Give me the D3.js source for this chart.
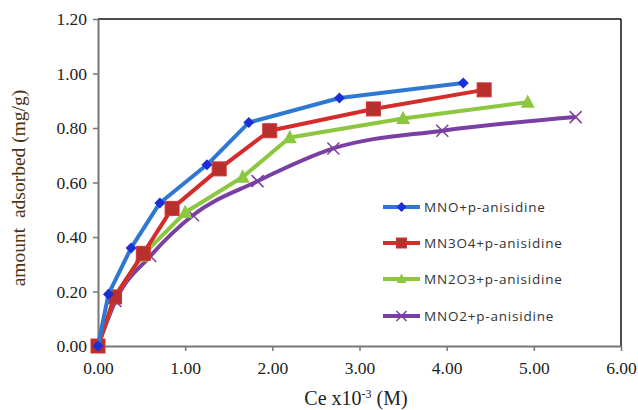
<!DOCTYPE html>
<html><head><meta charset="utf-8">
<script src="https://cdn.jsdelivr.net/npm/d3@7"></script>
<style>body{margin:0;background:#fff}svg{display:block}</style>
</head><body>
<svg id="c" width="638" height="410"></svg>
<script>
const seriesNames = ["MNO+p-anisidine","MN3O4+p-anisidine","MN2O3+p-anisidine","MNO2+p-anisidine"];
const legendLabels = ["MNO+p-anisidine","MN3O4+p-anisidine","MN2O3+p-anisidine","MNO2+p-anisidine"];
const mnoX = [0, 0.12, 0.38, 0.71, 1.25, 1.73, 2.77, 4.19];
const mnoY = [0, 0.19, 0.36, 0.525, 0.665, 0.82, 0.91, 0.965];
const mn3o4X = [0, 0.19, 0.52, 0.85, 1.39, 1.97, 3.16, 4.43];
const mn3o4Y = [0, 0.18, 0.34, 0.505, 0.65, 0.79, 0.87, 0.94];
const mn2o3X = [0, 0.19, 0.5, 1.0, 1.66, 2.2, 3.5, 4.93];
const mn2o3Y = [0, 0.18, 0.33, 0.49, 0.62, 0.765, 0.835, 0.895];
const mno2X = [0, 0.2, 0.6, 1.09, 1.83, 2.7, 3.95, 5.48];
const mno2Y = [0, 0.165, 0.33, 0.48, 0.605, 0.725, 0.79, 0.84];
const xTicks = [0,1,2,3,4,5,6];
const yTicks = [0,0.2,0.4,0.6,0.8,1.0,1.2];

const svg = d3.select("#c");
const L=98, R=621, T=19, B=346;
const x = d3.scaleLinear().domain([0,6]).range([L,R]);
const y = d3.scaleLinear().domain([0,1.2]).range([B,T]);
const serif = "'Liberation Serif','DejaVu Serif',serif";

svg.append("line").attr("x1",L).attr("x2",R).attr("y1",T).attr("y2",T).attr("stroke","#111").attr("stroke-width",1.5);
svg.append("line").attr("x1",R).attr("x2",R).attr("y1",T).attr("y2",B).attr("stroke","#111").attr("stroke-width",1.5);

const xa = svg.append("g").attr("transform",`translate(0,${B})`)
  .call(d3.axisBottom(x).tickValues(xTicks).tickFormat(d3.format(".2f")).tickSize(5).tickSizeOuter(0));
const ya = svg.append("g").attr("transform",`translate(${L},0)`)
  .call(d3.axisLeft(y).tickValues(yTicks).tickFormat(d3.format(".2f")).tickSize(5).tickSizeOuter(0));
[xa,ya].forEach(g=>{
  g.select(".domain").attr("stroke","#777").attr("stroke-width",2);
  g.selectAll(".tick line").attr("stroke","#777").attr("stroke-width",1.5);
  g.selectAll("text").attr("font-family",serif).attr("font-size",17.5).attr("fill","#222");
});
xa.selectAll("text").attr("y",16).attr("dy","0.71em");
ya.selectAll("text").attr("x",-11).attr("dy","0.32em");

const colors = ["#2f78d2","#d42b2b","#8dc63f","#7a3fa3"];
const mk = ["#1a2fd8","#c0302e","#8dc63f","#7a3fa3"];
const data = [[mnoX,mnoY],[mn3o4X,mn3o4Y],[mn2o3X,mn2o3Y],[mno2X,mno2Y]].map(([xs,ys])=>xs.map((v,i)=>[v,ys[i]]));
const curves = [d3.curveLinear,d3.curveLinear,d3.curveLinear,d3.curveMonotoneX];

function marker(g,i,cx,cy,s){
  if(i===0){
    g.append("path").attr("d",`M${cx},${cy-s}L${cx+s},${cy}L${cx},${cy+s}L${cx-s},${cy}Z`).attr("fill",mk[0]);
  } else if(i===1){
    g.append("rect").attr("x",cx-s).attr("y",cy-s).attr("width",2*s).attr("height",2*s).attr("fill","#b8302e").attr("stroke","#d43333").attr("stroke-width",1);
  } else if(i===2){
    g.append("path").attr("d",`M${cx},${cy-s*1.1}L${cx+s},${cy+s*0.8}L${cx-s},${cy+s*0.8}Z`).attr("fill",mk[2]);
  } else {
    g.append("path").attr("d",`M${cx-s},${cy-s}L${cx+s},${cy+s}M${cx-s},${cy+s}L${cx+s},${cy-s}`).attr("stroke",mk[3]).attr("stroke-width",1.5);
  }
}
const sizes=[5.5,7,7,6];
[3,2,1,0].forEach(i=>{
  const line = d3.line().x(d=>x(d[0])).y(d=>y(d[1])).curve(curves[i]);
  svg.append("path").datum(data[i]).attr("d",line).attr("fill","none").attr("stroke",colors[i]).attr("stroke-width",4).attr("stroke-linejoin","round");
  const g=svg.append("g");
  data[i].forEach(d=>marker(g,i,x(d[0]),y(d[1]),sizes[i]));
});

const legY=[207,243,279,316];
legendLabels.forEach((t,i)=>{
  const g=svg.append("g");
  g.append("line").attr("x1",383).attr("x2",420).attr("y1",legY[i]).attr("y2",legY[i]).attr("stroke",colors[i]).attr("stroke-width",4);
  marker(g,i,401.5,legY[i],5);
  g.append("text").attr("x",424).attr("y",legY[i]).attr("dy","0.35em").attr("font-family","'Open Sans','DejaVu Sans',sans-serif")
    .attr("font-size",13.5).attr("letter-spacing",0.8).attr("fill","#333").text(t);
});

svg.append("text").attr("x",356).attr("y",405).attr("text-anchor","middle")
  .attr("font-family",serif).attr("font-size",20).attr("fill","#222")
  .html('Ce x10<tspan dy="-7" font-size="12">-3</tspan><tspan dy="7"> (M)</tspan>');
svg.append("text").attr("transform","translate(25,188) rotate(-90)").attr("text-anchor","middle")
  .attr("font-family",serif).attr("font-size",19.5).attr("fill","#4a3410")
  .attr("xml:space","preserve").text("amount  adsorbed (mg/g)");
</script>
</body></html>
